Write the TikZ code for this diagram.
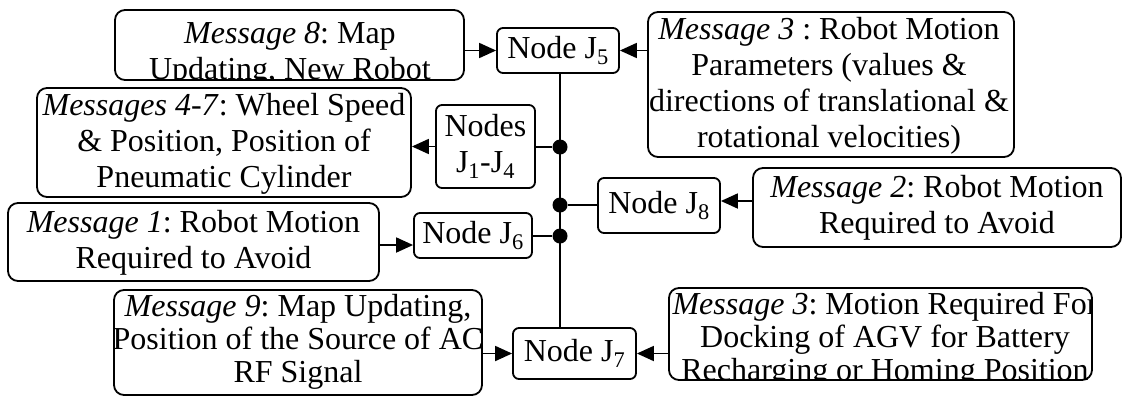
\documentclass[tikz,border=0pt]{standalone}
\usepackage{fontspec}
\setmainfont{Liberation Serif}
\usetikzlibrary{arrows.meta}
\frenchspacing
\begin{document}
\begin{tikzpicture}[x=1pt,y=-1pt,
  box/.style={draw, line width=1.8pt, rounded corners=10pt, inner sep=0pt},
  jnode/.style={draw, line width=1.8pt, rounded corners=6pt, inner sep=0pt, align=center, font=\fontsize{32}{36}\selectfont},
  msgtext/.style={inner sep=0pt, align=center, anchor=north, font=\fontsize{32}{36}\selectfont},
  tightmsg/.style={msgtext, font=\fontsize{32}{33}\selectfont},
  arr/.style={line width=1.8pt, -{Triangle[length=17pt,width=15pt]}},
  link/.style={line width=1.8pt},
  dot/.style={circle, fill, inner sep=0pt, minimum size=15pt}]
\useasboundingbox (0,0) rectangle (1124,397);

% message boxes
\node[box, minimum width=349pt, minimum height=70pt] (m8) at (289.5,45) {};
\node[box, minimum width=366pt, minimum height=145pt] (m3t) at (831,84.5) {};
\node[box, minimum width=374pt, minimum height=109pt] (m47) at (224,142.5) {};
\node[box, minimum width=368pt, minimum height=79pt] (m2) at (937,207.5) {};
\node[box, minimum width=371pt, minimum height=78pt] (m1) at (193.5,242) {};
\node[box, minimum width=368pt, minimum height=105pt] (m9) at (298,342.5) {};
\node[box, minimum width=423pt, minimum height=92pt] (m3b) at (880.5,334) {};

\begin{scope}
\clip[rounded corners=10pt] (m8.south west) rectangle (m8.north east);
\node[msgtext] (t8) at (290,22.4) {\textit{Message 8}: Map\\Updating, New Robot};
\end{scope}
\begin{scope}
\clip[rounded corners=10pt] (m3t.south west) rectangle (m3t.north east);
\node[msgtext] (t3t) at (829,17.4) {\textit{Message 3} : Robot Motion\\Parameters (values \&\\directions of translational \&\\rotational velocities)};
\end{scope}
\begin{scope}
\clip[rounded corners=10pt] (m47.south west) rectangle (m47.north east);
\node[msgtext] (t47) at (224,93.4) {\textit{Messages 4-7}: Wheel Speed\\\& Position, Position of\\Pneumatic Cylinder};
\end{scope}
\begin{scope}
\clip[rounded corners=10pt] (m2.south west) rectangle (m2.north east);
\node[msgtext] (t2) at (937,175.4) {\textit{Message 2}: Robot Motion\\Required to Avoid};
\end{scope}
\begin{scope}
\clip[rounded corners=10pt] (m1.south west) rectangle (m1.north east);
\node[msgtext] (t1) at (193.5,210.4) {\textit{Message 1}: Robot Motion\\Required to Avoid};
\end{scope}
\begin{scope}
\clip[rounded corners=10pt] (m9.south west) rectangle (m9.north east);
\node[tightmsg] (t9) at (298,294.4) {\textit{Message 9}: Map Updating,\\Position of the Source of AC\\RF Signal};
\end{scope}
\begin{scope}
\clip[rounded corners=10pt] (m3b.south west) rectangle (m3b.north east);
\node[tightmsg] (t3b) at (885,292.4) {\textit{Message 3}: Motion Required For\\Docking of AGV for Battery\\Recharging or Homing Position};
\end{scope}

% J nodes
\node[jnode, minimum width=122pt, minimum height=45pt] (J5) at (558,50.5) {Node J\textsubscript{5}};
\node[jnode, minimum width=99pt, minimum height=83pt] (J14) at (485.5,146.5) {Nodes\\J\textsubscript{1}-J\textsubscript{4}};
\node[jnode, minimum width=122pt, minimum height=55pt] (J8) at (659,205.5) {Node J\textsubscript{8}};
\node[jnode, minimum width=118pt, minimum height=45pt] (J6) at (473,235.5) {Node J\textsubscript{6}};
\node[jnode, minimum width=123pt, minimum height=51pt] (J7) at (574.5,353.5) {Node J\textsubscript{7}};

% bus
\node[dot] (d1) at (560,147) {};
\node[dot] (d2) at (560,205) {};
\node[dot] (d3) at (560,236) {};
\draw[link] (J5.south -| d1) -- (J7.north -| d1);
\draw[link] (J14.east |- d1) -- (d1);
\draw[link] (d2) -- (J8.west |- d2);
\draw[link] (d3) -- (J6.east |- d3);

% arrows
\coordinate (a6) at (0,245);
\coordinate (a8) at (0,201);
\draw[arr] (m8.east |- J5.west) -- (J5.west);
\draw[arr] (m3t.west |- J5.east) -- (J5.east);
\draw[arr] (J14.west) -- (m47.east |- J14.west);
\draw[arr] (m2.west |- a8) -- (J8.east |- a8);
\draw[arr] (m1.east |- a6) -- (J6.west |- a6);
\draw[arr] (m9.east |- J7.west) -- (J7.west);
\draw[arr] (m3b.west |- J7.east) -- (J7.east);
\end{tikzpicture}
\end{document}
